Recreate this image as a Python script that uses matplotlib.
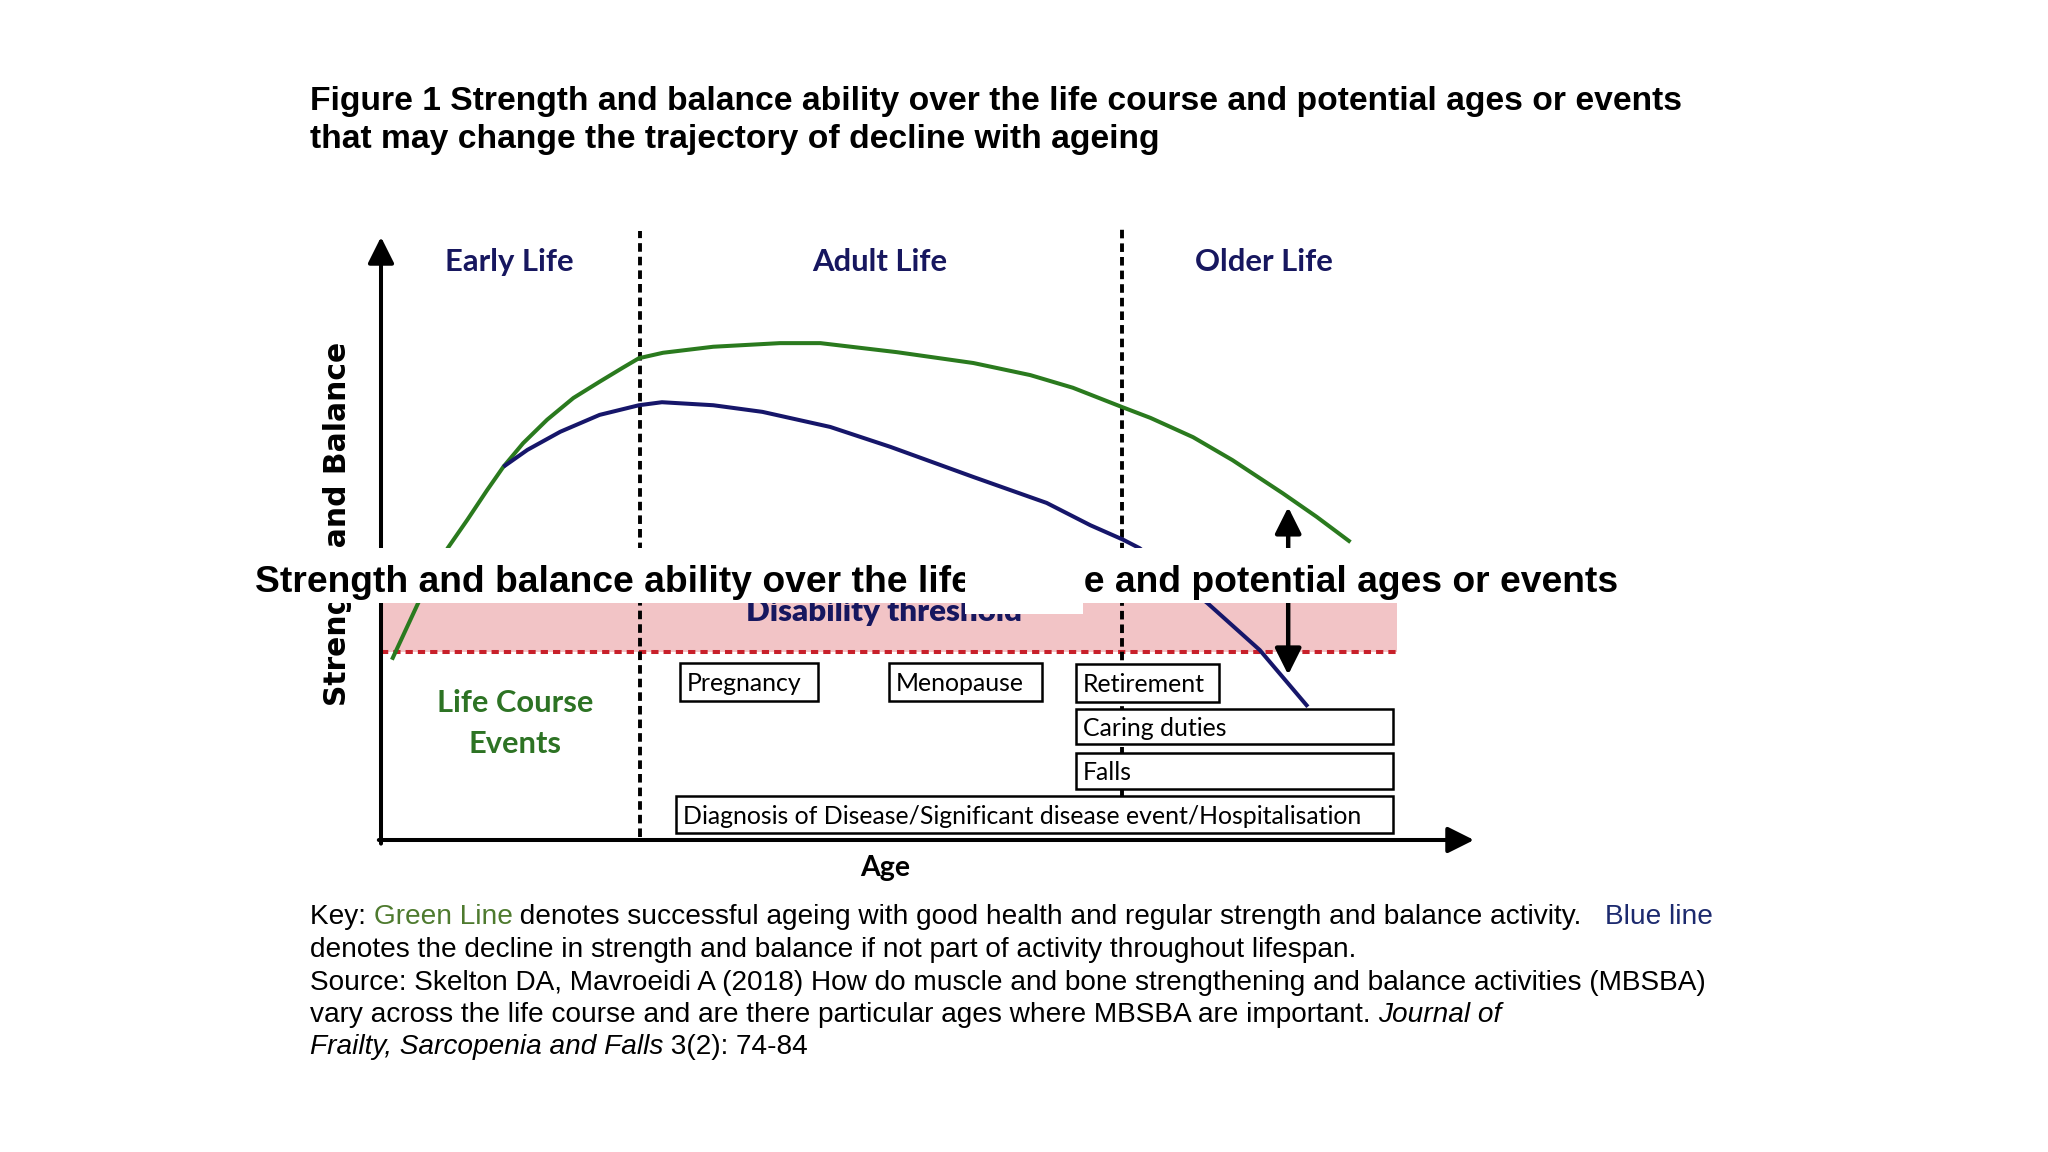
import matplotlib.pyplot as plt
from matplotlib.patches import Rectangle

# --- chart values (age / strength in arbitrary 0-100 units) ---
green_age = [1.0, 3.4, 6.1, 7.9, 9.7, 11.2, 13.0, 15.2, 17.6, 20.0, 22.1, 23.6, 25.8, 30.4,
             36.5, 40.2, 47.2, 54.2, 59.4, 63.3, 67.8, 70.4, 74.3, 77.9, 82.5, 85.6, 88.7]
green_str = [29.9, 39.3, 48.4, 53.1, 58.0, 61.9, 65.8, 69.7, 73.3, 76.0, 78.3, 79.9, 80.8, 81.8,
             82.4, 82.4, 80.9, 79.1, 77.1, 75.0, 71.8, 70.0, 66.8, 63.0, 57.5, 53.6, 49.4]
blue_age = [11.2, 13.4, 16.4, 20.0, 23.6, 25.7, 30.4, 34.9, 41.1, 46.6, 54.2, 60.9,
            64.9, 67.9, 69.4, 75.6, 80.4, 84.8]
blue_str = [61.9, 64.7, 67.7, 70.5, 72.1, 72.6, 72.1, 71.0, 68.5, 65.2, 60.2, 55.9,
            52.2, 49.8, 48.4, 39.3, 31.5, 22.1]

threshold = 31.2
stage_bounds = [23.7, 67.8]
stage_labels = ["Early Life", "Adult Life", "Older Life"]
stage_centres = [11.7, 45.6, 80.8]

events = ["Pregnancy", "Menopause", "Retirement", "Caring duties", "Falls",
          "Diagnosis of Disease/Significant disease event/Hospitalisation"]
event_start = [27.4, 46.5, 63.6, 63.6, 63.6, 27.0]
event_end = [40.0, 60.5, 76.7, 92.6, 92.6, 92.6]
event_low = [23.1, 23.1, 22.9, 15.9, 8.5, 1.2]
event_high = [29.4, 29.4, 29.2, 21.7, 14.4, 7.3]

title_lines = ["Figure 1 Strength and balance ability over the life course and potential ages or events",
               "that may change the trajectory of decline with ageing"]
overlay_text = "Strength and balance ability over the life course and potential ages or events"

GREEN = '#2a7a1e'
BLUE = '#16166a'
NAVY = '#17175f'
LABEL_GREEN = '#2d7324'
KEY_GREEN = '#4e7a2e'
KEY_BLUE = '#1c2a6e'

W, H = 2048, 1152
fig = plt.figure(figsize=(20.48, 11.52), dpi=100)
fig.patch.set_facecolor('white')
r = fig.canvas.get_renderer()


def fit(t, target, use_height=False):
    bb = t.get_window_extent(r)
    cur = bb.height if use_height else bb.width
    t.set_fontsize(t.get_fontsize() * target / cur)
    return t


def adv(s, size, family, style='normal', weight='normal'):
    a = fig.text(0, 0, s + '|', fontsize=size, family=family, fontstyle=style, fontweight=weight)
    b = fig.text(0, 0, '|', fontsize=size, family=family, fontstyle=style, fontweight=weight)
    w = a.get_window_extent(r).width - b.get_window_extent(r).width
    a.remove()
    b.remove()
    return w


ax = fig.add_axes([381 / W, 1 - 840 / H, 1093 / W, 603 / H])
ax.set_xlim(0, 100)
ax.set_ylim(0, 100)
ax.axis('off')

# disability zone
ax.fill_between([0, 93.0], threshold, 42, color='#f2c4c6', lw=0, zorder=1)
ax.plot([0, 93.0], [threshold, threshold], color='#c8202a', lw=2.9,
        linestyle=(0, (1.8, 1.25)), zorder=2)
dt = ax.text(46.0, 36.3, "Disability threshold", color=NAVY, fontsize=20, family='Lato',
             fontweight='heavy', ha='center', va='baseline', zorder=2)
fit(dt, 276)

# stage dividers
ax.plot([stage_bounds[0], stage_bounds[0]], [0.5, 101], color='black', lw=2.8,
        linestyle=(0, (2.2, 1.3)), zorder=2, clip_on=False)
ax.plot([stage_bounds[1], stage_bounds[1]], [5, 101.6], color='black', lw=2.8,
        linestyle=(0, (2.2, 1.3)), zorder=2, clip_on=False)

# trajectories
ax.plot(green_age, green_str, color=GREEN, lw=2.9, zorder=3, solid_capstyle='butt')
ax.plot(blue_age, blue_str, color=BLUE, lw=2.9, zorder=3, solid_capstyle='butt')

# axes arrows
arrow = dict(arrowstyle='-|>,head_length=0.4,head_width=0.2', color='black', lw=2.9,
             mutation_scale=40, shrinkA=0, shrinkB=0)
ax.annotate('', xy=(0, 100), xytext=(0, -0.6), arrowprops=arrow, annotation_clip=False)
ax.annotate('', xy=(100, 0), xytext=(-0.2, 0), arrowprops=arrow, annotation_clip=False)
small = dict(arrowstyle='-|>,head_length=0.4,head_width=0.2', color='black', lw=3.2,
             mutation_scale=40, shrinkA=0, shrinkB=0)
ax.annotate('', xy=(83.0, 55.2), xytext=(83.0, 45), arrowprops=small, zorder=3)
ax.annotate('', xy=(83.0, 27.4), xytext=(83.0, 42), arrowprops=small, zorder=3)

# life course event boxes
box_size = None
for name, x0, x1, y0, y1 in zip(events[::-1], event_start[::-1], event_end[::-1],
                                event_low[::-1], event_high[::-1]):
    ax.add_patch(Rectangle((x0, y0), x1 - x0, y1 - y0, facecolor='white',
                           edgecolor='black', lw=1.8, zorder=4))
    t = ax.text(x0 + 0.6, (y0 + y1) / 2 - 0.3, name, fontsize=16, family='Lato',
                ha='left', va='center', zorder=5)
    if box_size is None:
        box_size = fit(t, 684).get_fontsize()
    else:
        t.set_fontsize(box_size)

# stage labels
st_size = None
for name, xc in zip(stage_labels, stage_centres):
    t = ax.text(xc, 95.9, name, color=NAVY, fontsize=22, family='Lato', fontweight='bold',
                ha='center', va='center')
    if st_size is None:
        st_size = fit(t, 128).get_fontsize()
    else:
        t.set_fontsize(st_size)

lc = ax.text(12.3, 22.7, "Life Course", color=LABEL_GREEN, fontsize=22, family='Lato',
             fontweight='bold', ha='center', va='center')
fit(lc, 156)
ax.text(12.3, 15.9, "Events", color=LABEL_GREEN, fontsize=lc.get_fontsize(), family='Lato',
        fontweight='bold', ha='center', va='center')
age_t = ax.text(46.1, -4.6, "Age", color='black', fontsize=22, family='Lato', fontweight='bold',
                ha='center', va='center', clip_on=False)
fit(age_t, 50)

# y label
yl = fig.text(337 / W, 1 - 524 / H, "Strength and Balance", rotation=90, fontsize=20,
              family='DejaVu Sans', fontweight='bold', ha='center', va='center', zorder=1)
fit(yl, 363, use_height=True)

# pasted caption strip over the chart
fig.add_artist(Rectangle((250 / W, 1 - 603 / H), 1375 / W, 55 / H, transform=fig.transFigure,
                         facecolor='white', edgecolor='none', zorder=2))
ov = fig.text(255 / W, 1 - 592 / H, overlay_text, fontsize=22, family='Liberation Sans',
              fontweight='bold', ha='left', va='baseline', zorder=3)
fit(ov, 1362)
fig.add_artist(Rectangle((965 / W, 1 - 614 / H), 118 / W, 66 / H, transform=fig.transFigure,
                         facecolor='white', edgecolor='none', zorder=4))

# title
t1 = fig.text(310 / W, 1 - 110 / H, title_lines[0], fontsize=20, family='Liberation Sans',
              fontweight='bold', ha='left', va='baseline')
fit(t1, 1368)
fig.text(310 / W, 1 - 148 / H, title_lines[1], fontsize=t1.get_fontsize(),
         family='Liberation Sans', fontweight='bold', ha='left', va='baseline')

# key / source
key_lines = [
    [("Key: ", 'black', 'normal'), ("Green Line", KEY_GREEN, 'normal'),
     (" denotes successful ageing with good health and regular strength and balance activity.   ", 'black', 'normal'),
     ("Blue line", KEY_BLUE, 'normal')],
    [("denotes the decline in strength and balance if not part of activity throughout lifespan.", 'black', 'normal')],
    [("Source: Skelton DA, Mavroeidi A (2018) How do muscle and bone strengthening and balance activities (MBSBA)", 'black', 'normal')],
    [("vary across the life course and are there particular ages where MBSBA are important. ", 'black', 'normal'),
     ("Journal of", 'black', 'italic')],
    [("Frailty, Sarcopenia and Falls", 'black', 'italic'), (" 3(2): 74-84", 'black', 'normal')],
]
key_base = [924, 957, 990, 1022, 1054]

probe = fig.text(0, 0, key_lines[2][0][0], fontsize=18, family='Liberation Sans')
key_size = fit(probe, 1396).get_fontsize()
probe.remove()

for parts, yb in zip(key_lines, key_base):
    x = 310
    for s, c, style in parts:
        fig.text(x / W, 1 - yb / H, s, fontsize=key_size, family='Liberation Sans', color=c,
                 fontstyle=style, ha='left', va='baseline')
        x += adv(s, key_size, 'Liberation Sans', style)

fig.savefig('out.png', dpi=100, facecolor='white')
